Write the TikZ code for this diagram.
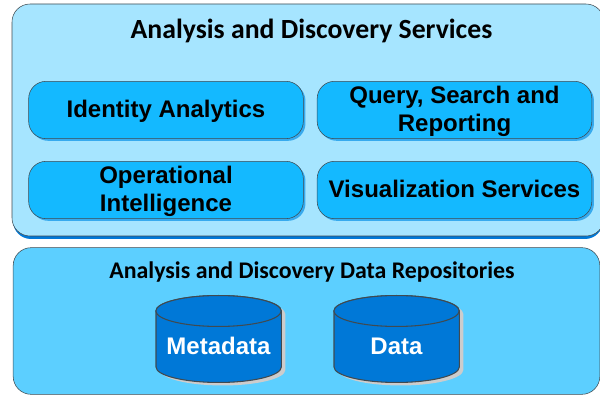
\documentclass[tikz,border=0pt]{standalone}
\usepackage{fontspec}
\setmainfont{Liberation Sans}
\newfontfamily\titlefont{Carlito}
\usetikzlibrary{shadows}
\definecolor{panelpale}{HTML}{A6E5FF}
\definecolor{panelmid}{HTML}{5CCFFF}
\definecolor{boxblue}{HTML}{14B9FF}
\definecolor{drumblue}{HTML}{0078D7}
\definecolor{edgegray}{HTML}{404A50}
\tikzset{
	panel/.style={draw=edgegray, rounded corners=13.5pt, minimum height=#1, inner sep=0pt},
	svcbox/.style={draw=edgegray, fill=boxblue, rounded corners=13pt, minimum width=206pt, minimum height=43pt, inner sep=0pt, align=center, text depth=1.5pt, font=\bfseries\fontsize{18}{21}\selectfont, drop shadow={shadow xshift=1.6pt, shadow yshift=-1.6pt, fill=drumblue!60!boxblue, opacity=0.7}},
	drum/.style={draw=edgegray, thick, fill=drumblue},
	drumshadow/.style={fill=gray!40},
	drumtext/.style={text=white, inner sep=0pt, font=\bfseries\fontsize{18}{21}\selectfont},
	heading/.style={font=\titlefont\bfseries\fontsize{#1}{#1}\selectfont}
}
\begin{document}
\begin{tikzpicture}[x=0.75pt, y=-0.75pt]
	\useasboundingbox (0,0) rectangle (600,395);
	\fill[drumblue, rounded corners=13.5pt] (13,7) rectangle (603,239);
	\node[panel=174pt, fill=panelpale, minimum width=444pt] (services) at (308,120) {};
	\node[panel=110pt, fill=panelmid, minimum width=440pt] (repos) at (306.5,321) {};
	\node[heading=20.8] (servicestitle) at (311.5,30.5) {Analysis and Discovery Services};
	\node[heading=17.9] (repostitle) at (312,272) {Analysis and Discovery Data Repositories};
	\node[svcbox] (identity) at (166,110) {Identity Analytics};
	\node[svcbox] (query) at (454.5,110) {Query, Search and\\Reporting};
	\node[svcbox] (operational) at (166,190) {Operational\\Intelligence};
	\node[svcbox] (visual) at (454.5,190) {Visualization Services};
	\foreach \cx/\drumname/\drumlabel in {218.5/metadata/Metadata, 396.5/data/Data} {
		\fill[drumshadow] (\cx-58.5,314) -- ++(0,56) arc[start angle=180, end angle=360, x radius=47pt, y radius=11.6pt] -- ++(0,-56) arc[start angle=0, end angle=180, x radius=47pt, y radius=11.6pt];
		\filldraw[drum] (\cx-62.5,311) -- ++(0,56) arc[start angle=180, end angle=360, x radius=47pt, y radius=11.6pt] -- ++(0,-56) arc[start angle=0, end angle=180, x radius=47pt, y radius=11.6pt] -- cycle;
		\draw[drum] (\cx,311) ellipse[x radius=47pt, y radius=11.6pt];
		\node[drumtext] (\drumname) at (\cx,346) {\drumlabel};
	}
\end{tikzpicture}
\end{document}
